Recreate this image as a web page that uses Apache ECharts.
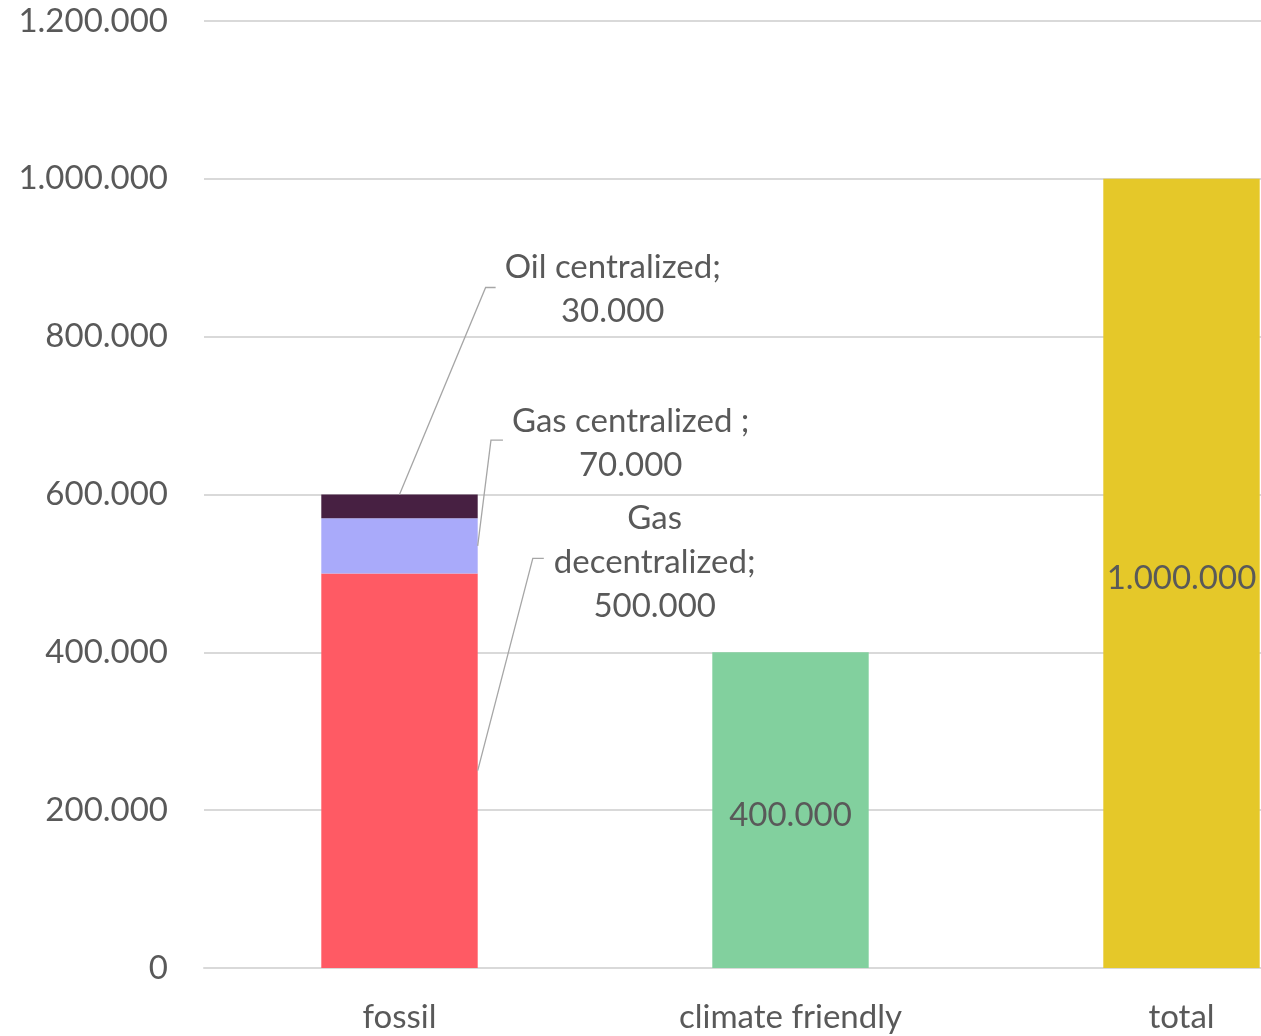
<!DOCTYPE html>
<html><head><meta charset="utf-8">
<script src="https://cdn.jsdelivr.net/npm/echarts@6/dist/echarts.min.js"></script>
<style>html,body{margin:0;padding:0;background:#fff}#c{width:1261px;height:1036px}</style>
</head><body><div id="c"></div>
<script>
const categories = ['fossil', 'climate friendly', 'total'];
const yMax = 1200000;
const yStep = 200000;
const gasDecentralized = [500000, '-', '-'];
const gasCentralized = [70000, '-', '-'];
const oilCentralized = [30000, '-', '-'];
const climateFriendly = ['-', 400000, '-'];
const totalValues = ['-', '-', 1000000];
const seriesNames = ['Gas decentralized', 'Gas centralized ', 'Oil centralized', 'climate friendly', 'total'];
const labelNames = ['Gas\ndecentralized', 'Gas centralized ', 'Oil centralized'];

const fmt = v => String(v).replace(/\B(?=(\d{3})+(?!\d))/g, '.');
const FONT = 'Lato';
const TXT = '#595959';
const FS = 33;
const BAR_W = 0.4;

// stacked segments of the first category, built from the arrays
const segValues = [gasDecentralized[0], gasCentralized[0], oilCentralized[0]];
const segData = [];
let acc = 0;
segValues.forEach((v, i) => { segData.push([0, acc, acc + v, i]); acc += v; });

// label placement relative to the segment (px)
const labelOffsets = [
  {dx: 177, dy: -11, anchor: 'right', g1: 21, g2: 10, ly: -4},
  {dx: 153, dy: -75, anchor: 'right', g1: 21, g2: 9, ly: -3},
  {dx: 135, dy: -205, anchor: 'top', g1: 19, g2: 9, ly: -2}
];

const mctx = document.createElement('canvas').getContext('2d');
function textWidth(t) {
  mctx.font = FS + 'px ' + FONT;
  return Math.max.apply(null, t.split('\n').map(s => mctx.measureText(s).width));
}

function renderLeader(params, api) {
  const cat = api.value(0), lo = api.value(1), hi = api.value(2), idx = api.value(3);
  const top = api.coord([cat, hi]);
  const bot = api.coord([cat, lo]);
  const bw = api.size([1, 0])[0] * BAR_W;
  const right = top[0] + bw / 2;
  const o = labelOffsets[idx];
  const text = labelNames[idx] + ';\n' + fmt(hi - lo);
  const cx = right + o.dx;
  const cy = top[1] + o.dy;
  const left = cx - textWidth(text) / 2;
  const ly = cy + o.ly;
  const a = o.anchor === 'top' ? [top[0], top[1]] : [right, (top[1] + bot[1]) / 2];
  return {
    type: 'group',
    children: [
      {type: 'polyline', shape: {points: [a, [left - o.g1, ly], [left - o.g2, ly]]},
       style: {stroke: '#a6a6a6', lineWidth: 1.3, fill: null}},
      {type: 'text', style: {text: text, x: cx, y: cy, align: 'center', verticalAlign: 'middle',
        fontFamily: FONT, fontSize: FS, lineHeight: 44, fill: TXT}}
    ]
  };
}

function barSeries(i, data, color, withLabel) {
  return {
    name: seriesNames[i], type: 'bar', stack: 's', data: data, barWidth: (BAR_W * 100) + '%',
    itemStyle: {color: color},
    label: withLabel ? {show: true, position: 'inside', offset: [0, 5], color: TXT, fontFamily: FONT,
      fontSize: FS, formatter: p => fmt(p.value)} : {show: false}
  };
}

const option = {
  animation: false,
  backgroundColor: '#fff',
  grid: {left: 204, top: 21, bottom: 68, width: 1173, containLabel: false, outerBoundsMode: 'none'},
  xAxis: {
    type: 'category', data: categories,
    axisLine: {lineStyle: {color: '#d9d9d9', width: 2}},
    axisTick: {show: false},
    axisLabel: {color: TXT, fontFamily: FONT, fontSize: FS, margin: 33}
  },
  yAxis: {
    type: 'value', min: 0, max: yMax, interval: yStep,
    axisLine: {show: false}, axisTick: {show: false},
    splitLine: {lineStyle: {color: '#d9d9d9', width: 2}},
    axisLabel: {color: TXT, fontFamily: FONT, fontSize: FS, margin: 36, formatter: v => fmt(v)}
  },
  series: [
    barSeries(0, gasDecentralized, '#FF5A64', false),
    barSeries(1, gasCentralized, '#A9AAFA', false),
    barSeries(2, oilCentralized, '#472042', false),
    barSeries(3, climateFriendly, '#82D09E', true),
    barSeries(4, totalValues, '#E5C829', true),
    {type: 'custom', data: segData, renderItem: renderLeader, z: 5, silent: true,
     encode: {x: 0, y: [1, 2]}}
  ]
};
const chart = echarts.init(document.getElementById('c'));
chart.setOption(option);
</script></body></html>
